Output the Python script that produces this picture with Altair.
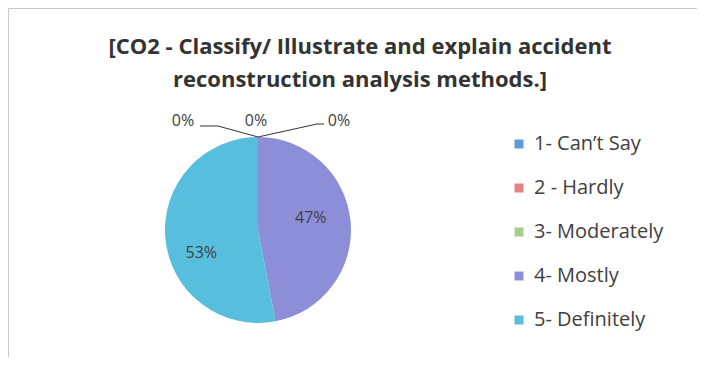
import altair as alt
import pandas as pd

# ---- data ----
categories = ["1- Can\u2019t Say", "2 - Hardly", "3- Moderately", "4- Mostly", "5- Definitely"]
percents = [0, 0, 0, 47, 53]
colors = ["#5B9FD8", "#E08484", "#A9CF8C", "#8D8ED8", "#58BEDE"]
title_lines = ["[CO2 - Classify/ Illustrate and explain accident",
               "reconstruction analysis methods.]"]

df = pd.DataFrame({
    "category": categories,
    "percent": percents,
    "order": list(range(len(categories))),
})
df["label"] = [f"{p}%" for p in percents]

W, H = 689, 349
CX, CY, R = 250, 222, 93
FONT = "Open Sans"
TXT = "#404040"

color = alt.Color(
    "category:N",
    scale=alt.Scale(domain=categories, range=colors),
    legend=alt.Legend(
        title=None, orient="none", legendX=501, legendY=126,
        symbolType="square", symbolSize=81, symbolStrokeWidth=0,
        labelFont=FONT, labelFontSize=20, labelColor=TXT,
        labelOffset=5, rowPadding=24, padding=0,
    ),
)

base = alt.Chart(df)

pie = base.mark_arc(outerRadius=R).encode(
    theta=alt.Theta("percent:Q", stack=True),
    color=color,
    order=alt.Order("order:Q"),
    x=alt.value(CX), y=alt.value(CY),
)

def slice_label(cat, dx, dy):
    return base.transform_window(
        cum="sum(percent)", sort=[alt.SortField("order")]
    ).transform_calculate(
        mid="datum.cum - datum.percent / 2"
    ).transform_filter(
        alt.datum.category == cat
    ).mark_text(
        radius=56, dx=dx, dy=dy, font=FONT, fontSize=16, color=TXT
    ).encode(
        theta=alt.Theta("mid:Q", scale=alt.Scale(domain=[0, 100])),
        text="label:N",
        x=alt.value(CX), y=alt.value(CY),
    )

lab47 = slice_label(categories[3], -3, -7)
lab53 = slice_label(categories[4], -1, 18)

# zero-value labels with leader lines (above the pie top)
zero_df = df[df["percent"] == 0]
zero_dx = [-75, -2, 81]
zero_labels = alt.layer(*[
    alt.Chart(zero_df.iloc[[i]]).mark_text(
        font=FONT, fontSize=16, color=TXT, dx=zero_dx[i]
    ).encode(text="label:N", x=alt.value(CX), y=alt.value(CY - R - 16))
    for i in range(3)
])

top_y = CY - R
rule_style = dict(color="#333333", strokeWidth=1)
one = df.head(1)
leader_left = alt.Chart(one).mark_rule(**rule_style).encode(
    x=alt.value(CX - 58), x2=alt.value(CX - 40), y=alt.value(top_y - 11), y2=alt.value(top_y - 11))
leader_left2 = alt.Chart(one).mark_rule(**rule_style).encode(
    x=alt.value(CX - 40), x2=alt.value(CX), y=alt.value(top_y - 11), y2=alt.value(top_y))
leader_right = alt.Chart(one).mark_rule(**rule_style).encode(
    x=alt.value(CX), x2=alt.value(CX + 59), y=alt.value(top_y), y2=alt.value(top_y - 13))
leader_right2 = alt.Chart(one).mark_rule(**rule_style).encode(
    x=alt.value(CX + 59), x2=alt.value(CX + 66), y=alt.value(top_y - 13), y2=alt.value(top_y - 13))

title_df = pd.DataFrame({"line": title_lines, "idx": [0, 1]})
title = alt.Chart(title_df).mark_text(
    font=FONT, fontSize=22, fontWeight="bold", color="#333333"
).encode(
    text="line:N",
    x=alt.value(352),
    y=alt.Y("idx:Q", scale=alt.Scale(domain=[0, 1], range=[39, 72]), axis=None),
)

chart = alt.layer(
    pie, lab47, lab53, zero_labels,
    leader_left, leader_left2, leader_right, leader_right2, title
).properties(
    width=W, height=H, padding=0, autosize=alt.AutoSizeParams(type="none"),
    background="white",
).configure_view(stroke="#c8c8c8", strokeWidth=1)

chart.save("out.html", embed_options={"renderer": "svg", "actions": False})
